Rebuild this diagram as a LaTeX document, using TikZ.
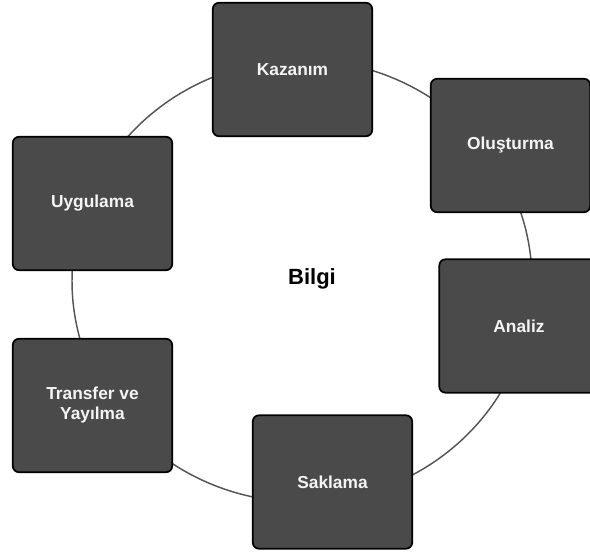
\documentclass[tikz,border=0pt]{standalone}
\usepackage{fontspec}
\setmainfont{Liberation Sans}
\definecolor{boxgray}{HTML}{4A4A4A}
\definecolor{ringgray}{HTML}{555555}
\definecolor{labelwhite}{HTML}{F4F4F4}

\begin{document}
\begin{tikzpicture}[x=0.75pt, y=-0.75pt,
  stage/.style={draw=black, line width=1.3pt, fill=boxgray, rounded corners=4.5pt,
    minimum width=119.5pt, minimum height=100pt, inner sep=0pt, align=center,
    text=labelwhite, font=\fontsize{13}{15}\selectfont\bfseries},
  ring/.style={draw=ringgray, line width=1.1pt}]

  \clip (0,0) rectangle (590,556);

  % --- Ring ---
  \coordinate (center) at (302,281);
  \draw[ring] (center) ellipse [x radius=172.5pt, y radius=165.75pt];

  % --- Stages ---
  \node[stage] (kazanim) at (292.5,69.5) {Kazanım};
  \node[stage] (olusturma) at (510.5,145.5) {Oluşturma};
  \node[stage] (analiz) at (519,326) {Analiz};
  \node[stage] (saklama) at (332.5,482) {Saklama};
  \node[stage] (transfer) at (92.5,405.5) {Transfer ve\\Yayılma};
  \node[stage] (uygulama) at (92.5,203.5) {Uygulama};

  % --- Center ---
  \node[font=\fontsize{16.5}{18}\selectfont\bfseries] (bilgi) at (312,279) {Bilgi};

\end{tikzpicture}
\end{document}
